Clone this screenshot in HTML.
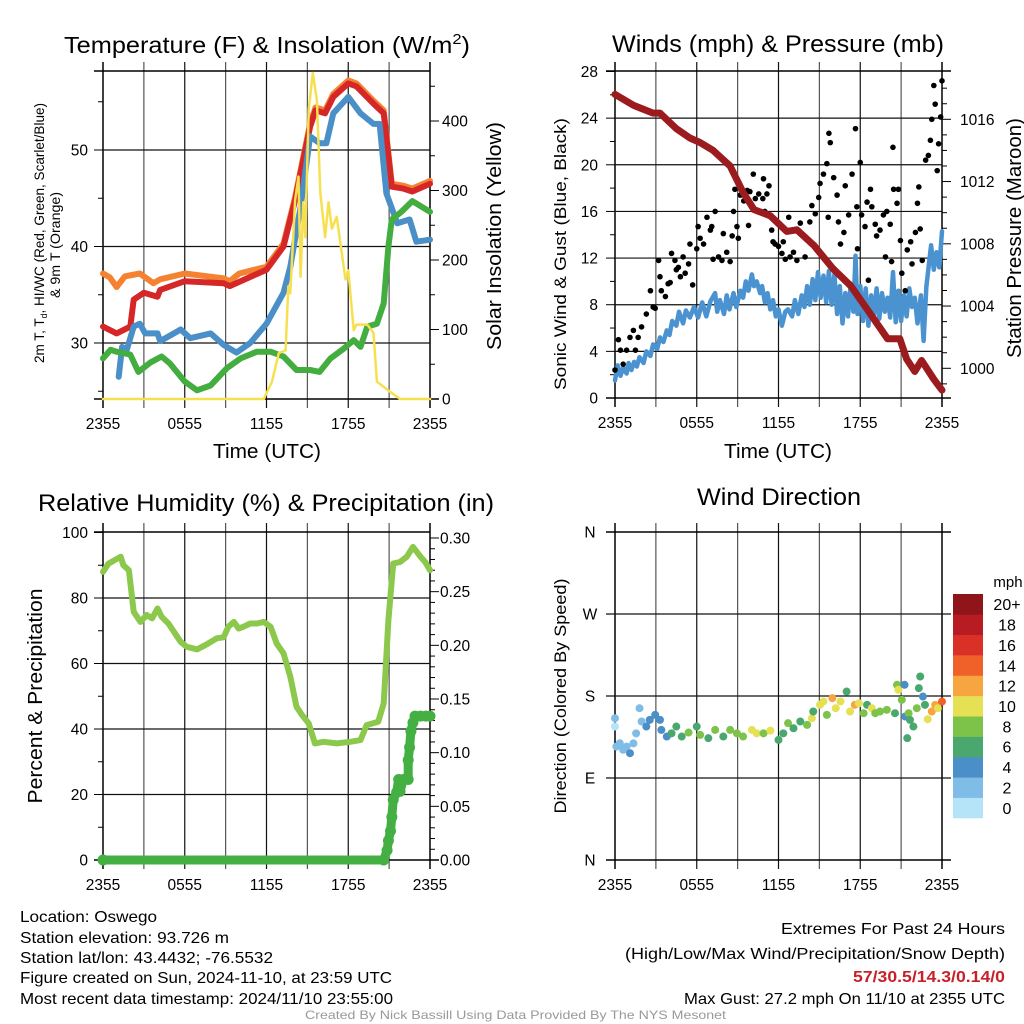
<!DOCTYPE html>
<html><head><meta charset="utf-8"><style>
html,body{margin:0;padding:0;background:#fff;}
svg{display:block;font-family:"Liberation Sans",Arial,sans-serif;}
</style></head><body>
<svg id="chart" width="1024" height="1024" viewBox="0 0 1024 1024" xmlns="http://www.w3.org/2000/svg">
<rect width="1024" height="1024" fill="#fff"/>
<g id="layer"></g>
<!-- titles -->
<text x="64" y="53" font-size="23" textLength="406" lengthAdjust="spacingAndGlyphs">Temperature (F) &amp; Insolation (W/m<tspan dy="-9" font-size="15">2</tspan><tspan dy="9">)</tspan></text>
<text x="612" y="52" font-size="24" textLength="332" lengthAdjust="spacingAndGlyphs">Winds (mph) &amp; Pressure (mb)</text>
<text x="38" y="511" font-size="24" textLength="456" lengthAdjust="spacingAndGlyphs">Relative Humidity (%) &amp; Precipitation (in)</text>
<text x="697" y="505" font-size="24" textLength="164" lengthAdjust="spacingAndGlyphs">Wind Direction</text>
<!-- axis titles -->
<text transform="translate(44,233) rotate(-90)" font-size="14" text-anchor="middle" textLength="260" lengthAdjust="spacingAndGlyphs">2m T, T<tspan dy="3" font-size="9">d</tspan><tspan dy="-3">, HI/WC (Red, Green, Scarlet/Blue)</tspan></text>
<text transform="translate(60,245) rotate(-90)" font-size="14" text-anchor="middle" textLength="106" lengthAdjust="spacingAndGlyphs">&amp; 9m T (Orange)</text>
<text transform="translate(501,236) rotate(-90)" font-size="20" text-anchor="middle" textLength="228" lengthAdjust="spacingAndGlyphs">Solar Insolation (Yellow)</text>
<text x="267" y="458" font-size="20" text-anchor="middle" textLength="108" lengthAdjust="spacingAndGlyphs">Time (UTC)</text>
<text x="778" y="458" font-size="20" text-anchor="middle" textLength="108" lengthAdjust="spacingAndGlyphs">Time (UTC)</text>
<text transform="translate(566,254) rotate(-90)" font-size="17" text-anchor="middle" textLength="272" lengthAdjust="spacingAndGlyphs">Sonic Wind &amp; Gust (Blue, Black)</text>
<text transform="translate(1021,238) rotate(-90)" font-size="20" text-anchor="middle" textLength="240" lengthAdjust="spacingAndGlyphs">Station Pressure (Maroon)</text>
<text transform="translate(42,696) rotate(-90)" font-size="20" text-anchor="middle" textLength="215" lengthAdjust="spacingAndGlyphs">Percent &amp; Precipitation</text>
<text transform="translate(566,696) rotate(-90)" font-size="17" text-anchor="middle" textLength="235" lengthAdjust="spacingAndGlyphs">Direction (Colored By Speed)</text>
<!-- footer -->
<g font-size="16">
<text x="20" y="922" textLength="137" lengthAdjust="spacingAndGlyphs">Location: Oswego</text>
<text x="20" y="943" textLength="209" lengthAdjust="spacingAndGlyphs">Station elevation: 93.726 m</text>
<text x="20" y="963" textLength="253" lengthAdjust="spacingAndGlyphs">Station lat/lon: 43.4432; -76.5532</text>
<text x="20" y="983" textLength="372" lengthAdjust="spacingAndGlyphs">Figure created on Sun, 2024-11-10, at 23:59 UTC</text>
<text x="20" y="1004" textLength="373" lengthAdjust="spacingAndGlyphs">Most recent data timestamp: 2024/11/10 23:55:00</text>
</g>
<g font-size="16">
<text x="781" y="934" textLength="224" lengthAdjust="spacingAndGlyphs">Extremes For Past 24 Hours</text>
<text x="625" y="959" textLength="380" lengthAdjust="spacingAndGlyphs">(High/Low/Max Wind/Precipitation/Snow Depth)</text>
<text x="853" y="982" fill="#c8202a" font-weight="bold" textLength="152" lengthAdjust="spacingAndGlyphs">57/30.5/14.3/0.14/0</text>
<text x="684" y="1004" textLength="321" lengthAdjust="spacingAndGlyphs">Max Gust: 27.2 mph On 11/10 at 2355 UTC</text>
</g>
<text x="305" y="1019" font-size="12" fill="#999" textLength="421" lengthAdjust="spacingAndGlyphs">Created By Nick Bassill Using Data Provided By The NYS Mesonet</text>
</svg>
<script>
// ---------- data ----------
const xTickLabels = ["2355","0555","1155","1755","2355"];
const tempTickLabels = [30,40,50];
const solarTickLabels = [0,100,200,300,400];
const windTickLabels = [0,4,8,12,16,20,24,28];
const pressTickLabels = [1000,1004,1008,1012,1016];
const rhTickLabels = [0,20,40,60,80,100];
const precipTickLabels = ["0.00","0.05","0.10","0.15","0.20","0.25","0.30"];
const dirTickLabels = ["N","E","S","W","N"];
const speedBinLabels = ["0","2","4","6","8","10","12","14","16","18","20+"];

const tempRedT = [0,1.0,2.0,2.25,3.0,4.0,4.2,6.0,8.85,9.3,12.0,13.25,14.1,14.7,15.2,15.6,16.3,16.9,18.0,18.6,19.85,20.6,21.2,22.05,22.7,24];
const tempRedV = [31.7,31.0,31.7,34.5,35.2,34.8,35.5,36.4,36.2,35.9,37.6,40.0,44.8,49.0,52.4,54.1,53.8,55.5,56.9,56.6,54.8,53.8,46.2,46.0,45.7,46.5];
const tempOrT = [0,0.5,1.0,1.6,2.7,3.7,4.2,6.0,8.85,9.3,10.0,12.0,13.25,14.1,14.7,15.2,15.6,16.3,16.9,18.0,18.6,19.85,20.6,21.2,22.05,22.7,24];
const tempOrV = [37.2,36.8,35.8,36.9,37.2,36.2,36.6,37.2,36.7,36.4,37.2,37.9,40.3,45.1,49.3,52.7,54.4,54.1,55.8,57.2,56.9,55.1,54.1,46.5,46.3,46.0,46.8];
const tempBlueT = [1.15,1.4,1.75,2.25,2.7,3.1,4.0,4.2,5.7,6.4,7.9,8.85,9.8,10.8,12.0,13.25,13.75,14.5,15.2,15.9,16.4,16.9,18.0,18.9,19.85,20.3,20.8,21.6,22.5,23.0,24];
const tempBlueV = [26.5,29.6,29.3,31.7,32.0,31.0,31.0,30.2,31.4,30.5,31.0,29.8,29.0,30.0,32.0,35.2,37.9,44.1,51.4,50.7,50.7,53.8,55.5,53.8,52.7,52.7,45.5,42.4,42.8,40.5,40.7];
const tempGreenT = [0,0.55,1.0,2.0,2.6,3.5,4.3,4.9,6.0,6.9,7.9,9.1,10.1,11.3,12.3,13.25,14.2,15.2,15.9,16.7,17.65,18.4,18.9,19.4,20.1,20.6,20.95,21.2,21.9,22.7,24];
const tempGreenV = [28.4,29.3,29.1,28.8,27.0,28.0,28.6,27.9,26.0,25.1,25.6,27.4,28.4,29.1,29.1,28.6,27.2,27.2,27.0,28.4,29.4,30.3,29.6,31.7,32.0,34.1,40.0,42.8,43.6,44.7,43.6];
const solarT = [0,11.8,12.4,12.9,13.4,13.6,13.75,14.1,14.35,14.5,14.7,14.85,15.1,15.4,15.7,15.95,16.3,16.55,16.8,17.15,17.8,18.0,18.4,18.6,19.4,19.85,20.1,21.1,21.8,24];
const solarV = [0,0,25,66,70,162,152,286,320,176,283,233,416,469,430,297,233,283,245,262,172,185,99,107,107,95,25,10,0,0];

const windT = [0,0.2,0.4,0.6,0.85,1.0,1.2,1.4,1.6,1.8,2.1,2.3,2.6,2.8,3.1,3.3,3.55,3.8,4.0,4.2,4.5,4.7,5.0,5.2,5.5,5.8,6.1,6.4,6.7,7.0,7.35,7.5,7.7,8.0,8.2,8.4,8.7,8.9,9.2,9.4,9.6,9.8,10.05,10.2,10.4,10.65,10.8,11.0,11.2,11.4,11.6,11.8,12.0,12.25,12.5,12.7,13.0,13.2,13.45,13.7,13.9,14.1,14.3,14.5,14.7,14.9,15.1,15.3,15.5,15.7,15.9,16.1,16.3,16.5,16.7,16.9,17.1,17.3,17.5,17.65,17.8,18.0,18.2,18.4,18.6,18.8,19.0,19.2,19.4,19.6,19.8,20.0,20.2,20.4,20.6,20.8,21.0,21.2,21.4,21.6,21.8,22.0,22.2,22.45,22.65,22.85,23.05,23.2,23.4,23.6,23.8,24];
const windV = [1.5,2.8,1.9,2.6,2.1,3.0,2.4,3.1,2.7,3.5,3.0,4.0,3.6,4.6,4.2,5.2,4.8,5.8,5.4,6.6,6.2,7.4,6.4,7.5,6.9,7.8,6.9,8.2,7.0,8.3,9.0,7.4,8.4,7.2,8.8,7.6,9.0,7.8,9.2,8.6,10.0,9.2,10.6,9.6,10.0,9.0,9.6,8.2,9.0,7.6,8.4,7.0,7.6,6.2,7.4,7.6,7.0,8.4,7.2,8.8,7.8,9.6,8.0,10.2,8.4,10.8,8.6,10.5,8.2,10.9,8.0,10.6,7.2,9.6,6.4,9.0,7.0,9.8,7.4,12.2,7.2,9.6,6.6,9.4,6.2,8.8,7.0,9.4,6.8,9.0,7.4,8.6,6.9,10.8,6.5,9.2,6.6,8.8,7.0,9.4,7.8,8.6,6.4,8.8,4.9,9.5,11.6,13.1,11.0,12.5,11.2,14.3];
const gustT = [0,0.25,0.4,0.6,0.85,1.1,1.35,1.5,1.7,1.95,2.3,2.6,2.8,2.95,3.2,3.3,3.4,3.7,3.9,4.05,4.15,4.4,4.5,4.65,4.8,5.0,5.15,5.4,5.5,5.7,6.0,6.1,6.25,6.5,6.75,7.0,7.1,7.2,7.35,7.6,7.85,7.95,8.2,8.45,8.6,8.7,8.8,8.95,9.05,9.2,9.45,9.7,9.8,9.9,10.15,10.3,10.55,10.85,10.9,11.0,11.15,11.3,11.5,11.6,11.75,12.0,12.25,12.35,12.5,12.75,12.85,13.1,13.35,13.6,13.7,13.95,14.3,14.45,14.7,14.95,15.05,15.3,15.55,15.65,15.7,15.8,16.05,16.3,16.4,16.55,16.8,16.9,17.15,17.4,17.65,17.75,17.8,18.0,18.1,18.35,18.5,18.6,18.75,18.85,19.1,19.2,19.45,19.7,19.85,19.95,20.2,20.3,20.4,20.45,20.7,20.8,20.95,21.05,21.3,21.45,21.7,21.8,22.05,22.2,22.3,22.4,22.55,22.8,23.0,23.15,23.25,23.4,23.5,23.65,23.75,23.9,24];
const gustV = [2.4,5.0,4.1,2.9,4.1,5.2,5.8,4.1,5.2,6.1,7.2,9.2,7.8,7.7,11.8,10.4,9.2,8.7,9.8,9.9,12.4,11.8,11.0,11.2,10.4,12.1,10.7,11.5,13.2,9.7,12.8,14.7,13.7,13.2,15.5,14.4,14.7,11.9,16.0,12.1,11.8,14.1,12.5,11.7,13.9,16.0,17.9,14.7,13.7,17.4,16.9,17.8,14.8,17.7,19.2,17.1,17.5,17.1,18.8,16.0,17.5,18.2,14.4,13.4,13.2,13.0,12.4,13.4,11.9,15.5,12.1,12.5,11.8,15.0,14.0,12.1,15.1,16.5,15.8,17.2,18.4,19.2,20.1,15.5,22.7,21.9,18.9,17.4,15.1,13.2,14.2,18.2,15.7,19.2,23.1,16.4,12.8,20.2,15.7,14.7,16.8,10.1,17.9,16.4,14.9,13.9,14.4,15.7,12.1,16.0,14.9,11.7,21.5,17.9,16.7,17.9,13.5,10.7,9.2,12.7,13.4,11.5,14.2,16.7,18.1,14.5,11.8,20.4,20.8,22.1,23.9,26.8,25.2,19.5,21.8,24.1,27.2];
const pressT = [0,1.35,2.8,3.3,4.5,5.5,6.25,7.2,8.45,9.4,10.2,11.4,12.6,13.35,14.6,16.0,17.3,18.5,20.0,20.9,21.4,22.0,22.5,23.4,24];
const pressV = [1017.6,1016.9,1016.4,1016.4,1015.4,1014.8,1014.5,1014.0,1013.0,1011.3,1010.2,1009.8,1008.8,1008.9,1007.9,1006.4,1005.3,1003.8,1001.9,1001.9,1000.6,999.8,1000.5,999.3,998.6];

const rhT = [0,0.4,1.3,1.5,1.9,2.25,2.75,3.2,3.6,4.0,4.3,4.8,5.7,6.15,6.9,7.5,8.35,8.85,9.2,9.6,9.95,10.3,10.8,11.3,11.8,12.3,12.75,13.25,13.75,14.2,14.6,15.1,15.55,16.2,17.15,18.15,18.9,19.35,20.2,20.6,20.95,21.3,21.8,22.3,22.75,23.3,23.65,24];
const rhV = [88.0,90.5,92.6,90.0,88.5,75.8,72.7,74.8,73.8,76.8,74.3,72.2,66.6,65.1,64.3,65.6,67.7,68.0,71.2,72.7,70.7,71.2,72.2,72.2,72.7,71.2,66.1,63.1,56.0,46.8,44.3,41.7,35.6,36.1,35.6,36.1,36.6,41.2,42.2,47.8,73.2,90.5,91.0,92.6,95.6,92.6,91.0,88.5];
const precipT = [0,20.6,20.85,20.95,21.1,21.2,21.3,21.55,21.7,21.8,22.05,22.4,22.4,22.5,22.6,22.75,22.9,23.3,23.7,24];
const precipV = [0,0,0.009,0.018,0.027,0.04,0.056,0.063,0.075,0.064,0.075,0.075,0.093,0.105,0.12,0.128,0.134,0.134,0.134,0.134];

const dirT = [0,0,0.1,0.35,0.6,0.85,1.1,1.35,1.55,1.8,1.95,2.3,2.55,2.95,3.3,3.4,3.8,4.15,4.5,4.9,5.4,6.0,6.25,6.85,7.35,7.95,8.45,8.95,9.4,10.05,10.4,10.9,11.4,12.0,12.35,12.7,13.1,13.6,14.1,14.45,14.55,15.05,15.3,15.55,15.95,16.2,16.55,17.0,17.25,17.6,17.9,18.25,18.5,18.85,19.1,19.45,19.95,20.55,20.7,20.8,21.05,21.25,21.3,21.55,21.65,21.45,21.9,22.15,22.3,22.4,22.6,22.75,22.95,23.25,23.5,23.7,24];
const dirV = [155.6,146.5,124.5,128.2,121,124.5,117.2,128,139,166.6,152,146.5,153.8,159.3,153.8,142.8,135.5,139,146.5,135.5,139.9,146.5,137.3,133.7,142.8,135.5,142.8,139,135.5,142.8,139,139,142,131.8,139,150.2,144.6,152,148.3,155.6,163,170.3,174,159.3,177.6,166.6,174,184.9,163,170.3,172,161.1,170.3,166.6,161.1,163,164.8,161.1,192.3,186.8,175.8,192.3,157.5,161.1,153.8,133.7,146.5,166.6,188.6,201.4,179.4,170.3,154.5,163,170.3,166.6,173.9];
const dirSpeed = [3,1,3,3,3,3,5,3,3,3,3,5,5,5,5,5,5,7,7,7,9,7,9,7,9,7,9,9,9,11,11,9,11,7,7,9,7,7,9,11,7,11,11,9,13,11,11,7,11,13,11,9,7,11,9,9,9,7,9,11,9,5,5,9,7,7,7,9,7,7,5,7,11,13,13,11,15];
const speedColors = ["#b5e3f8","#7fbce6","#4a8fc7","#4aa86e","#7dc34a","#e6e055","#f6a541","#ef6129","#d93127","#b71c22","#8f1518"];

// ---------- helpers ----------
const NS = "http://www.w3.org/2000/svg";
const layer = document.getElementById("layer");
const TF = 15.5;
function mk(tag, attrs, parent) {
  const e = document.createElementNS(NS, tag);
  for (const k in attrs) e.setAttribute(k, attrs[k]);
  (parent || layer).appendChild(e);
  return e;
}
function lin(d0, d1, r0, r1) { return v => r0 + (v - d0) * (r1 - r0) / (d1 - d0); }
function pathFrom(ts, vs, xs, ys) { return ts.map((t, i) => (i ? "L" : "M") + xs(t).toFixed(1) + "," + ys(vs[i]).toFixed(1)).join(""); }

function frame(x0, x1, y0, y1, name) {
  const g = mk("g", {});
  
  
  const xs = lin(0, 24, x0, x1);
  for (let h = 3; h < 24; h += 3) {
    const l = mk("line", {x1: xs(h), x2: xs(h), y1: y0 - 9, y2: y1 + 9, stroke: (h % 6 ? "#555" : "#111"), "stroke-width": 1.2}, g);
    
    
  }
  [0, 24].forEach(h => { mk("line", {x1: xs(h), x2: xs(h), y1: y0 - 9, y2: y1 + 9, stroke: "#000", "stroke-width": 1.5}, g); });
  xTickLabels.forEach((s, i) => {
    const t = mk("text", {x: xs(i * 6), y: y1 + 30, "font-size": TF, "text-anchor": "middle"}, g);
    t.textContent = s;
    
    
  });
  return xs;
}
function hLines(g, x0, x1, ys, vals, ext) {
  vals.forEach(v => mk("line", {x1: x0 - ext, x2: x1 + ext, y1: ys(v), y2: ys(v), stroke: "#111", "stroke-width": 1.2}, g));
}
function tickLabels(vals, labels, ys, x, anchor, size) {
  vals.forEach((v, i) => {
    const t = mk("text", {x: x, y: ys(v) + 5.5, "font-size": size || TF, "text-anchor": anchor});
    t.textContent = labels[i];
    
    
  });
}
function ticks(vals, ys, x, len) {
  vals.forEach(v => mk("line", {x1: x, x2: x + len, y1: ys(v), y2: ys(v), stroke: "#000", "stroke-width": 1}));
}
function series(name, d, color, w) {
  const p = mk("path", {d: d, fill: "none", stroke: color, "stroke-width": w, "stroke-linejoin": "round", "stroke-linecap": "round"});
  
  
}

// ---------- panel 1: temperature ----------
{
  const x0 = 103, x1 = 430, y0 = 71, y1 = 399;
  const xs = frame(x0, x1, y0, y1, "temperature-plot-grid");
  const ys = lin(30, 50, 343, 150);
  const ysS = lin(0, 400, 399, 121);
  const g = mk("g", {});
  hLines(g, x0, x1, ys, tempTickLabels, 0);
  mk("line", {x1: x0 - 9, x2: x1, y1: y0, y2: y0, stroke: "#000", "stroke-width": 1.5});
  mk("line", {x1: x0 - 9, x2: x1 + 9, y1: y1, y2: y1, stroke: "#000", "stroke-width": 1.5});
  tempTickLabels.forEach(v => mk("line", {x1: x0 - 9, x2: x0, y1: ys(v), y2: ys(v), stroke: "#000"}));
  ticks([25, 35, 45, 55], ys, x0 - 5, 5);
  tickLabels(tempTickLabels, tempTickLabels, ys, 88, "end");
  ticks(solarTickLabels, ysS, x1, 9);
  ticks([50, 150, 250, 350, 450], ysS, x1, 5);
  tickLabels(solarTickLabels, solarTickLabels, ysS, 442, "start");
  series("temperature-9m-orange-line", pathFrom(tempOrT, tempOrV, xs, ys), "#f58231", 6);
  series("temperature-2m-red-line", pathFrom(tempRedT, tempRedV, xs, ys), "#d62728", 6);
  series("windchill-blue-line", pathFrom(tempBlueT, tempBlueV, xs, ys), "#4a8fc7", 6);
  series("dewpoint-green-line", pathFrom(tempGreenT, tempGreenV, xs, ys), "#44ad3f", 6);
  series("solar-insolation-yellow-line", pathFrom(solarT, solarV, xs, ysS), "#f7e050", 2.5);
}
// ---------- panel 2: winds ----------
{
  const x0 = 615, x1 = 942, y0 = 71, y1 = 398;
  const xs = frame(x0, x1, y0, y1, "winds-plot-grid");
  const ys = lin(0, 28, 398, 71.5);
  const ysP = lin(1000, 1016, 368.3, 119.3);
  const g = mk("g", {});
  hLines(g, x0, x1, ys, windTickLabels.slice(1, 7), 0);
  mk("line", {x1: x0 - 9, x2: x1 + 9, y1: y0, y2: y0, stroke: "#000", "stroke-width": 1.5});
  mk("line", {x1: x0 - 9, x2: x1 + 9, y1: y1, y2: y1, stroke: "#000", "stroke-width": 1.5});
  ticks(windTickLabels, ys, x0 - 9, 9);
  ticks([2, 6, 10, 14, 18, 22, 26], ys, x0 - 5, 5);
  tickLabels(windTickLabels, windTickLabels, ys, 598, "end");
  ticks(pressTickLabels, ysP, x1, 9);
  ticks([999, 1001, 1002, 1003, 1005, 1006, 1007, 1009, 1010, 1011, 1013, 1014, 1015, 1017, 1018], ysP, x1, 5);
  tickLabels(pressTickLabels, pressTickLabels, ysP, 960, "start");
  series("sonic-wind-blue-line", pathFrom(windT, windV, xs, ys), "#4a93d0", 4.5);
  gustT.forEach((t, i) => {
    const c = mk("circle", {cx: xs(t), cy: ys(gustV[i]), r: 2.8, fill: "#000"});
    
    
  });
  series("station-pressure-maroon-line", pathFrom(pressT, pressV, xs, ysP), "#9b1b1e", 7);
}
// ---------- panel 3: humidity ----------
{
  const x0 = 103, x1 = 430, y0 = 532, y1 = 860;
  const xs = frame(x0, x1, y0, y1, "humidity-plot-grid");
  const ys = lin(0, 100, 860, 532.5);
  const ysP = lin(0, 0.30, 860, 538);
  const g = mk("g", {});
  hLines(g, x0, x1, ys, [20, 40, 60, 80], 0);
  mk("line", {x1: x0 - 9, x2: x1, y1: y0, y2: y0, stroke: "#000", "stroke-width": 1.5});
  mk("line", {x1: x0 - 9, x2: x1 + 9, y1: y1, y2: y1, stroke: "#000", "stroke-width": 1.5});
  ticks(rhTickLabels, ys, x0 - 9, 9);
  ticks([10, 30, 50, 70, 90], ys, x0 - 5, 5);
  tickLabels(rhTickLabels, rhTickLabels, ys, 88, "end");
  const pv = precipTickLabels.map(Number);
  ticks(pv, ysP, x1, 9);
  ticks([0.01,0.02,0.03,0.04,0.06,0.07,0.08,0.09,0.11,0.12,0.13,0.14,0.16,0.17,0.18,0.19,0.21,0.22,0.23,0.24,0.26,0.27,0.28,0.29], ysP, x1, 5);
  tickLabels(pv, precipTickLabels, ysP, 440, "start");
  series("relative-humidity-line", pathFrom(rhT, rhV, xs, ys), "#8cc84b", 6);
  series("precipitation-baseline", pathFrom(precipT, precipV, xs, ysP), "#44b044", 9);
  precipT.forEach((t, i) => {
    const c = mk("circle", {cx: xs(t), cy: ysP(precipV[i]), r: 5.5, fill: "#44b044"});
    
    
  });
}
// ---------- panel 4: wind direction ----------
{
  const x0 = 615, x1 = 942, y0 = 532, y1 = 860;
  const xs = frame(x0, x1, y0, y1, "direction-plot-grid");
  const ys = lin(0, 360, 860, 532);
  const g = mk("g", {});
  hLines(g, x0, x1, ys, [90, 180, 270], 9);
  mk("line", {x1: x0 - 9, x2: x1 + 9, y1: y0, y2: y0, stroke: "#000", "stroke-width": 1.5});
  mk("line", {x1: x0 - 9, x2: x1 + 9, y1: y1, y2: y1, stroke: "#000", "stroke-width": 1.5});
  tickLabels([0, 90, 180, 270, 360], dirTickLabels, ys, 590, "middle");
  dirT.forEach((t, i) => {
    const bin = Math.min(10, Math.floor(dirSpeed[i] / 2));
    const c = mk("circle", {cx: xs(t), cy: ys(dirV[i]), r: 4, fill: speedColors[bin]});
    
    
  });
  // colorbar
  const cb = mk("g", {});
  
  
  const bh = 224 / 11;
  speedColors.forEach((col, i) => {
    const y = 818 - (i + 1) * bh;
    mk("rect", {x: 953, y: y, width: 30, height: bh + 0.3, fill: col}, cb);
    const t = mk("text", {x: 1007, y: y + bh / 2 + 6, "font-size": 16, "text-anchor": "middle"}, cb);
    t.textContent = speedBinLabels[i];
    
    
  });
  const u = mk("text", {x: 1008, y: 587, "font-size": 15, "text-anchor": "middle"}, cb);
  u.textContent = "mph";
  
  
}
</script>
</body></html>
